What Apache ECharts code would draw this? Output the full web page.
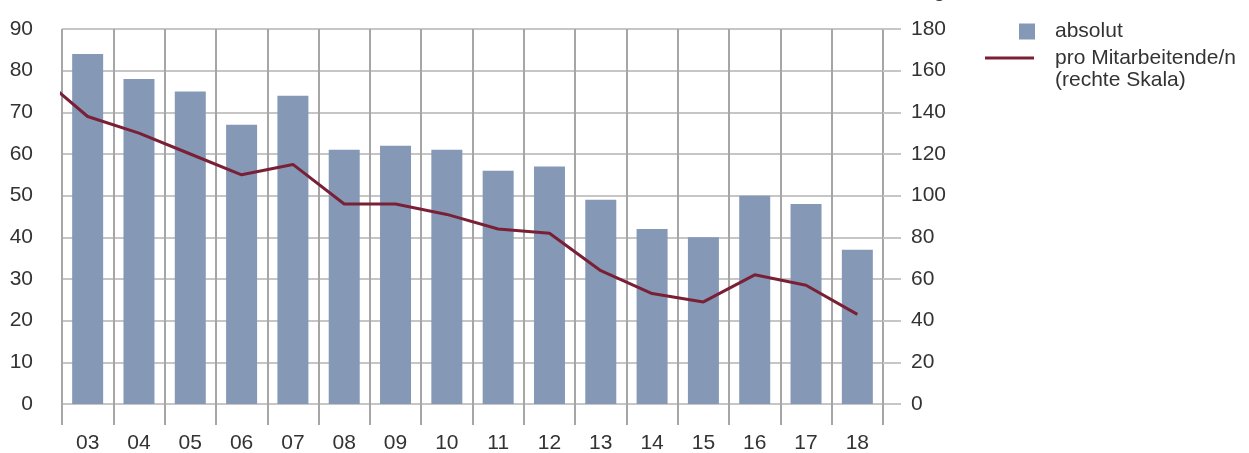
<!DOCTYPE html>
<html>
<head>
<meta charset="utf-8">
<script src="https://cdn.jsdelivr.net/npm/echarts@6/dist/echarts.min.js"></script>
<style>html,body{margin:0;padding:0;background:#fff;}#c{width:1249px;height:453px;}</style>
</head>
<body>
<div id="c"></div>
<script>
const years = ['03','04','05','06','07','08','09','10','11','12','13','14','15','16','17','18'];
const absolut = [84,78,75,67,74,61,62,61,56,57,49,42,40,50,48,37];
// line values per year; first entry is the (clipped) 2002 value
const lineYears = ['02','03','04','05','06','07','08','09','10','11','12','13','14','15','16','17','18'];
const proMitarbeiter = [159,138,130,120,110,115,96,96,91,84,82,64,53,49,62,57,43];
const leftTicks = [0,90,10];
const rightTicks = [0,180,20];

const FONT = 'Liberation Sans';
const TXT = '#333333';
const HGRID = '#c6c6c6';
const VGRID = '#a6a6a6';
const BAR = '#8599b7';
const LINE = '#7a2036';
const lineName = 'pro Mitarbeitende/n\n(rechte Skala)';

const chart = echarts.init(document.getElementById('c'), null, {renderer:'canvas'});
chart.setOption({
  animation: false,
  backgroundColor: '#fff',
  textStyle: {fontFamily: FONT},
  grid: {left: 62, right: 366, top: 29, bottom: 49, containLabel: false, outerBoundsMode: 'none'},
  legend: [
    {data: ['absolut'], left: 1019, top: 21, padding: 0, icon: 'rect', itemWidth: 16, itemHeight: 16,
     textStyle: {fontFamily: FONT, fontSize: 21, color: TXT, padding: [0,0,0,15]}},
    {data: [lineName], left: 985, top: 47, padding: 0,
     icon: 'path://M0,0L0.01,0M0,9.5H49V12.5H0ZM48.99,44L49,44', itemWidth: 49, itemHeight: 44,
     itemStyle: {color: LINE, borderWidth: 0},
     textStyle: {fontFamily: FONT, fontSize: 21, lineHeight: 22, color: TXT, padding: [0,0,0,16]}}
  ],
  xAxis: [
    {type: 'category', data: years, position: 'bottom', boundaryGap: true,
     axisLine: {show: false},
     axisTick: {show: true, length: 21, lineStyle: {color: VGRID, width: 2}},
     axisLabel: {fontFamily: FONT, fontSize: 21, color: TXT, margin: 29},
     splitLine: {show: true, interval: 0, lineStyle: {color: VGRID, width: 2}}},
    {type: 'category', data: years, position: 'top', boundaryGap: true,
     axisLine: {show: false},
     axisTick: {show: true, length: 21, lineStyle: {color: VGRID, width: 2}},
     axisLabel: {show: false}, splitLine: {show: false}},
    {type: 'value', min: -0.5, max: years.length - 0.5, show: false}
  ],
  yAxis: [
    {type: 'value', min: leftTicks[0], max: leftTicks[1], interval: leftTicks[2], position: 'left',
     axisLine: {show: false},
     axisTick: {show: true, length: 19, lineStyle: {color: HGRID, width: 2}},
     axisLabel: {fontFamily: FONT, fontSize: 21, color: TXT, margin: 29},
     splitLine: {show: true, lineStyle: {color: HGRID, width: 2}}},
    {type: 'value', min: rightTicks[0], max: rightTicks[1], interval: rightTicks[2], position: 'right',
     name: 'kg', nameLocation: 'end', nameGap: 27,
     nameTextStyle: {fontFamily: FONT, fontSize: 21, color: TXT, align: 'left', verticalAlign: 'bottom', padding: [0,0,0,40]},
     axisLine: {show: false},
     axisTick: {show: true, length: 18, lineStyle: {color: HGRID, width: 2}},
     axisLabel: {fontFamily: FONT, fontSize: 21, color: TXT, margin: 28},
     splitLine: {show: false}}
  ],
  series: [
    {name: 'absolut', type: 'bar', xAxisIndex: 0, yAxisIndex: 0, data: absolut,
     barWidth: 31, itemStyle: {color: BAR}, z: 2},
    {name: lineName, type: 'line', xAxisIndex: 2, yAxisIndex: 1,
     data: proMitarbeiter.map((v, i) => [i - 1, v]),
     clip: true, symbol: 'none', lineStyle: {color: LINE, width: 3}, itemStyle: {color: LINE}, z: 3}
  ]
});
</script>
</body>
</html>
